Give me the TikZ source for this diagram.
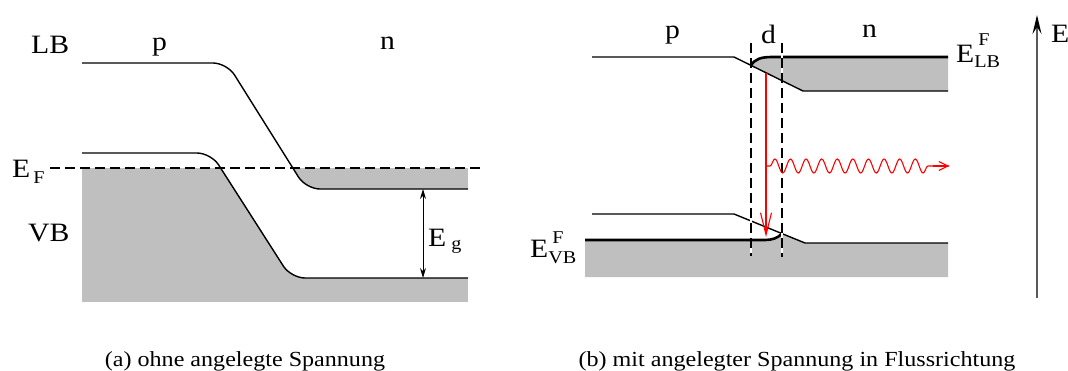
\documentclass[tikz,border=0pt]{standalone}
\usepackage{fontspec}
\setmainfont[FakeStretch=1.12]{Liberation Serif}
\usetikzlibrary{arrows.meta,decorations.pathmorphing}
\newcommand\lowtxt[2]{\raisebox{-#1}{\fontsize{18}{18}\selectfont #2}}
\newcommand\supsubtxt[4]{\rlap{\raisebox{#1}{\fontsize{18}{18}\selectfont\kern#3 F}}\raisebox{-#2}{\fontsize{18}{18}\selectfont #4}}
\begin{document}
\begin{tikzpicture}[x=1pt,y=-1pt,
  lbl/.style={font=\fontsize{26.5}{28}\selectfont, inner sep=0pt, anchor=base west},
  capt/.style={font=\fontsize{21.5}{24}\selectfont, inner sep=0pt, anchor=base},
  bandline/.style={line width=1.4pt, line join=round},
  fermiline/.style={line width=2.6pt},
  bandfill/.style={fill=gray!50},
  efline/.style={line width=1.3pt, dash pattern=on 10pt off 5pt},
  dline/.style={line width=1.4pt, dash pattern=on 10pt off 5pt},
  redline/.style={red, line width=1.1pt},
]
\useasboundingbox (0,0) rectangle (1068,370);

% ---------------- panel (a) ----------------
\begin{scope}
  \clip[rounded corners=14pt] (60,153) -- (211,153) -- (291,278) -- (500,278) -- (500,340) -- (60,340) -- cycle;
  \fill[bandfill] (82,168) rectangle (468,302);
\end{scope}
\begin{scope}
  \clip[rounded corners=14pt] (60,0) -- (60,63) -- (227,63) -- (306,189) -- (500,189) -- (500,0) -- cycle;
  \fill[bandfill] (82,168) rectangle (468,200);
\end{scope}
\draw[bandline, rounded corners=14pt] (82,63) -- (227,63) -- (306,189) -- (468,189);
\draw[bandline, rounded corners=14pt] (82,153) -- (211,153) -- (291,278) -- (468,278);
\coordinate (ef1) at (50,168);
\coordinate (ef2) at (483,168);
\draw[efline] (ef1) -- (ef2);
\coordinate (eg1) at (423,189);
\coordinate (eg2) at (423,278);
\draw[line width=1pt, {Stealth[length=10pt,width=6pt]}-{Stealth[length=10pt,width=6pt]}] (eg1) -- (eg2);

\node[lbl] (lb) at (31,53) {LB};
\node[lbl] (pa) at (152,50) {p};
\node[lbl] (na) at (380,49) {n};
\node[lbl] (ef) at (12,177) {E\kern3pt\lowtxt{6pt}{F}};
\node[lbl] (vb) at (28,241) {VB};
\node[lbl] (eg) at (428,246) {E\kern5pt\lowtxt{3pt}{g}};
\node[capt] (capa) at (245,366) {(a) ohne angelegte Spannung};

% ---------------- panel (b) ----------------
\fill[bandfill] (751,65.4) .. controls (755,59) and (761,57) .. (772,57) -- (948,57) -- (948,91) -- (803,91) -- cycle;
\fill[bandfill] (585,240) -- (765,240) .. controls (772,240) and (778,238) .. (782,233.6) -- (805,243) -- (948,243) -- (948,277) -- (585,277) -- cycle;
\draw[bandline] (592,57) -- (734,57) -- (803,91) -- (948,91);
\draw[bandline] (592,214) -- (734,214) -- (805,243) -- (948,243);
\draw[fermiline] (751,65.4) .. controls (755,59) and (761,57) .. (772,57) -- (948,57);
\draw[fermiline] (585,240) -- (765,240) .. controls (772,240) and (778,238) .. (782,233.6);

\coordinate (d1t) at (751,43);
\coordinate (d1b) at (751,256);
\coordinate (d2t) at (782,43);
\coordinate (d2b) at (782,257);
\draw[white, line width=1.6pt] (d1t) -- (d1b);
\draw[white, line width=1.6pt] (d2t) -- (d2b);
\draw[dline] (d1t) -- (d1b);
\draw[dline] (d2t) -- (d2b);

\coordinate (ra1) at (766,72.8);
\coordinate (ra2) at (766,237);
\draw[redline, -{Straight Barb[length=22pt,width=11pt]}] (ra1) -- (ra2);
\coordinate (w1) at (765,166);
\coordinate (w2) at (949,166);
\draw[redline, decorate, decoration={snake, amplitude=7pt, segment length=15.6pt, pre length=5pt, post length=16pt}] (w1) -- (w2);
\draw[redline, -{Straight Barb[length=9pt,width=9pt]}] ([xshift=-16pt]w2) -- (w2);

\coordinate (ax1) at (1037,298);
\coordinate (ax2) at (1037,15);
\draw[black!65, line width=1.8pt, -{Stealth[length=19pt,width=9pt,inset=7pt,black]}] (ax1) -- (ax2);

\node[lbl] (pb) at (665,38) {p};
\node[lbl] (db) at (761,43) {d};
\node[lbl] (nb) at (862,37) {n};
\node[lbl] (elb) at (956,62) {E\supsubtxt{17pt}{5pt}{4pt}{LB}};
\node[lbl] (evb) at (530,257) {E\supsubtxt{14pt}{6pt}{4pt}{VB}};
\node[lbl] (eax) at (1051,42) {E};
\node[capt] (capb) at (797,366) {(b) mit angelegter Spannung in Flussrichtung};
\end{tikzpicture}
\end{document}
